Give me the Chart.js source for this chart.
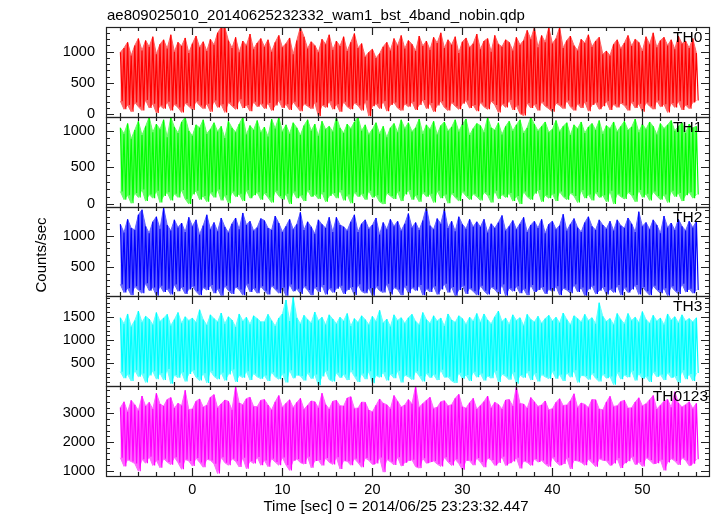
<!DOCTYPE html>
<html>
<head>
<meta charset="utf-8">
<title>ae809025010 wam1 bst 4band</title>
<script src="https://cdn.jsdelivr.net/npm/chart.js@4.4.0/dist/chart.umd.min.js"></script>
<style>
  html, body { margin: 0; padding: 0; background: #fff; }
  #wrap { width: 717px; height: 516px; }
</style>
</head>
<body>
<div id="wrap"><canvas id="lc" width="717" height="516"></canvas></div>
<script>
// light curve: highest and lowest count rate in each 0.4 s step from t = -8 s
var timeStart = -8;
var timeBin = 0.4;

var th0Hi = [
  990, 1060, 1150, 940, 1100, 1210, 1020, 1180, 1080, 1240, 960, 1120, 1190, 1050, 1270, 1000, 1150, 1090, 1220, 980,
  1130, 1250, 1070, 1160, 1010, 1200, 1110, 1300, 1390, 1390, 1180, 1060, 1230, 990, 1170, 1100, 1280, 1040, 1140, 1210,
  1080, 1190, 1000, 1150, 1260, 1070, 1130, 1220, 960, 1180, 1390, 1240, 1050, 1160, 1100, 990, 1200, 1120, 1270, 1030,
  1170, 1090, 1240, 1010, 1150, 1290, 1060, 1130, 920, 990, 1040, 900, 970, 1080, 1150, 1020, 1210, 1100, 1260, 1050,
  1180, 1120, 1010, 1250, 1090, 1170, 1030, 1230, 1140, 1300, 1060, 1190, 1110, 1240, 980, 1160, 1220, 1070, 1130, 1280,
  1040, 1170, 1210, 1000, 1260, 1120, 1080, 1190, 1150, 1020, 1230, 1110, 1180, 1340, 1200, 1390, 1070, 1260, 1150, 1390,
  1130, 1210, 1390, 1060, 1180, 1250, 1100, 1020, 1200, 1140, 1270, 1080, 1170, 1230, 960, 1010, 940, 1120, 1190, 1050,
  1140, 1260, 1090, 1200, 1150, 1010, 1240, 1120, 1300, 1070, 1180, 1230, 1100, 1190, 1040, 1250, 1130, 1170, 1060, 1210, 980
];
var th0Lo = [
  210, 80, 150, 40, 190, 120, 60, 230, 100, 170, 20, 140, 90, 200, 60, 160, 110, 30, 180, 130,
  70, 210, 140, 90, 170, 40, 220, 110, 160, 30, 190, 130, 80, 240, 100, 150, 50, 200, 120, 170,
  90, 180, 60, 140, 220, 100, 160, 70, 200, 120, 50, 170, 130, 90, 190, -30, 150, 110, 210, 80,
  160, 40, 200, 120, 80, 180, 140, 60, 220, -30, 130, 170, 90, 210, 50, 150, 190, 100, 60, 170,
  120, 200, 70, 150, 230, 90, 180, 40, 140, 210, 110, 60, 190, 130, 80, 170, 220, 100, 150, 50,
  190, 120, 80, 210, 150, 30, 170, 110, 230, 70, 140, 10, -20, 180, 100, 160, 60, 200, 130, 90,
  40, 180, 140, 90, 220, 120, 60, 170, 100, 200, 50, 150, 190, 80, 130, 210, 70, 160, 110, 180,
  140, 60, 200, 100, 170, 40, 190, 130, 80, 220, 120, 160, 30, 180, 110, 210, 70, 150, 90, 190, 220
];

var th1Hi = [
  1040, 960, 1100, 890, 1010, 1130, 940, 1060, 1185, 980, 1090, 1020, 1150, 910, 1185, 1050, 970, 1120, 1185, 1000,
  930, 1080, 1040, 1150, 960, 1020, 1110, 990, 1060, 900, 1130, 1040, 980, 1090, 1185, 950, 1070, 1010, 1140, 980,
  1050, 920, 1160, 1030, 1185, 990, 1080, 960, 1110, 1040, 940, 1070, 1150, 1000, 1090, 930, 1130, 1020, 1060, 990,
  1185, 1040, 970, 1090, 1030, 1120, 1185, 1000, 1080, 950, 1020, 1110, 960, 1060, 910, 1040, 1100, 980, 1150, 1030,
  1110, 990, 1040, 1160, 960, 1080, 1020, 1130, 950, 1070, 1120, 1000, 1050, 1150, 990, 1090, 1160, 940, 1030, 1100,
  1070, 980, 1185, 1040, 1010, 1110, 950, 1060, 1130, 1000, 1080, 1150, 970, 1040, 1185, 1090, 1000, 1060, 1120, 980,
  1020, 1140, 990, 1060, 1110, 940, 1080, 1030, 1120, 970, 1050, 1100, 1010, 1140, 960, 1070, 1030, 1120, 990, 1060,
  1130, 1010, 1050, 1160, 980, 1090, 1020, 1120, 1060, 950, 1100, 1030, 1080, 1140, 1000, 1060, 1110, 970, 1090, 1040, 1060
];
var th1Lo = [
  170, 60, 120, 10, 150, 90, 200, 40, 130, 80, 180, 20, 110, 160, 50, 140, 90, 190, 70, 0,
  130, 180, 60, 110, 30, 160, 90, 200, 50, 120, 10, 170, 100, 140, 40, 190, 80, 120, 160, 60,
  150, 90, 20, 180, 110, 60, 140, 0, 170, 80, 120, 40, 190, 100, 130, 70, 160, 30, 110, 150,
  80, 190, 50, 130, 10, 160, 100, 140, 60, 180, 90, 120, 30, 0, 150, 110, 70, 170, 40, 130,
  190, 60, 120, 30, 160, 100, 140, 20, 180, 80, 130, 10, 150, 90, 40, 170, 110, 60, 140, 100,
  50, 160, 120, 20, 180, 70, 130, 90, 150, 40, 110, 0, 170, 100, 60, 140, 190, 30, 120, 80,
  140, 40, 170, 100, 60, 150, 110, 20, 190, 80, 130, 50, 160, 90, 120, 30, 180, 0, 140, 100,
  70, 160, 120, 30, 190, 90, 140, 50, 170, 110, 60, 130, 20, 180, 100, 150, 40, 120, 160, 80, 130
];

var th2Hi = [
  1180, 1050, 1260, 1120, 1090, 1330, 1410, 1150, 1040, 1220, 1300, 1110, 1440, 1170, 1080, 1250, 1130, 1200, 1060, 1290,
  1150, 1250, 1020, 1160, 1330, 1100, 1210, 1070, 1280, 1140, 1050, 1190, 1280, 1100, 1360, 1170, 1230, 1080, 1130, 1270,
  1240, 1120, 1090, 1310, 1200, 1060, 1150, 1260, 1100, 1180, 1370, 1090, 1220, 1140, 1030, 1250, 1180, 1120, 1290, 1060,
  1290, 1170, 1140, 1080, 1220, 1330, 1060, 1190, 1250, 1110, 1170, 1280, 1020, 1210, 1100, 1260, 1150, 1230, 1080, 1190,
  1350, 1130, 1210, 1090, 1240, 1450, 1160, 1100, 1270, 1190, 1420, 1120, 1230, 1070, 1300, 1180, 1110, 1260, 1140, 1220,
  1140, 1260, 1050, 1190, 1120, 1210, 1320, 1080, 1150, 1240, 1100, 1190, 1290, 1060, 1170, 1230, 1120, 1260, 1040, 1180,
  1230, 1100, 1160, 1340, 1080, 1180, 1270, 1130, 1060, 1210, 1300, 1150, 1090, 1250, 1170, 1110, 1230, 1080, 1250, 1160,
  1120, 1280, 1190, 1060, 1380, 1150, 1210, 1100, 1250, 1170, 1040, 1310, 1130, 1200, 1090, 1260, 1150, 1080, 1230, 1130, 1230
];
var th2Lo = [
  230, 100, 170, 60, 200, 140, 90, 250, 130, 180, 50, 210, 110, 160, 70, 230, 120, 190, 80, 150,
  200, 120, 60, 180, 140, 220, 90, 160, 50, 210, 130, 80, 190, 150, 60, 240, 110, 170, 90, 200,
  130, 70, 210, 150, 90, 180, 50, 230, 120, 160, 80, 200, 140, 60, 190, 110, 220, 70, 170, 100,
  160, 210, 80, 140, 190, 60, 230, 120, 90, 170, 50, 200, 130, 100, 240, 70, 180, 150, 60, 210,
  90, 180, 130, 220, 60, 160, 110, 200, 70, 150, 240, 100, 190, 50, 140, 210, 80, 170, 120, 60,
  210, 130, 70, 190, 150, 80, 230, 50, 170, 120, 200, 90, 160, 60, 220, 110, 140, 190, 80, 150,
  120, 200, 60, 170, 140, 90, 230, 110, 180, 50, 150, 210, 80, 130, 190, 70, 160, 100, 220, 60,
  180, 100, 150, 220, 70, 190, 120, 60, 210, 140, 90, 170, 50, 200, 130, 80, 240, 110, 160, 90, 140
];

var th3Hi = [
  1480, 1350, 1560, 1290, 1420, 1620, 1380, 1510, 1450, 1330, 1590, 1400, 1470, 1550, 1310, 1440, 1590, 1360, 1500, 1420,
  1470, 1380, 1650, 1440, 1320, 1540, 1460, 1390, 1580, 1350, 1500, 1430, 1280, 1560, 1410, 1490, 1340, 1520, 1460, 1390,
  1390, 1550, 1420, 1300, 1470, 1560, 1860, 1410, 1920, 1480, 1350, 1530, 1440, 1370, 1600, 1420, 1490, 1330, 1540, 1450,
  1350, 1490, 1410, 1570, 1300, 1460, 1380, 1520, 1440, 1330, 1510, 1400, 1640, 1370, 1450, 1290, 1540, 1420, 1480, 1360,
  1480, 1550, 1400, 1330, 1590, 1440, 1360, 1520, 1410, 1470, 1300, 1560, 1430, 1380, 1520, 1460, 1340, 1490, 1410, 1570,
  1380, 1560, 1430, 1350, 1500, 1620, 1400, 1470, 1340, 1540, 1420, 1480, 1310, 1550, 1440, 1390, 1510, 1360, 1460, 1530,
  1410, 1490, 1370, 1580, 1440, 1330, 1520, 1460, 1390, 1550, 1420, 1480, 1350, 1800, 1510, 1400, 1460, 1330, 1570, 1440,
  1350, 1570, 1420, 1490, 1380, 1610, 1440, 1360, 1530, 1410, 1470, 1330, 1560, 1430, 1500, 1370, 1540, 1410, 1460, 1390, 1480
];
var th3Lo = [
  320, 180, 260, 120, 350, 210, 280, 90, 240, 330, 160, 290, 140, 380, 60, 250, 190, 310, 110, 270,
  350, 200, 130, 290, 80, 340, 220, 160, 300, 130, 260, 370, 100, 240, 190, 330, 140, 280, 210, 170,
  240, 120, 310, 210, 160, 280, 90, 350, 180, 250, 230, 130, 300, 170, 260, 30, 220, 340, 150, 110,
  300, 190, 260, 140, 350, 220, 100, 280, 160, 330, 70, 240, 200, 310, 130, 270, 180, 340, 90, 250,
  210, 150, 330, 230, 110, 290, 190, 260, 140, 360, 200, 210, 120, 80, 300, 170, 250, 120, 320, 200,
  280, 130, 230, 180, 340, 100, 270, 220, 150, 310, 60, 250, 190, 330, 140, 290, 110, 260, 210, 170,
  330, 170, 260, 120, 300, 200, 350, 90, 240, 230, 150, 290, 180, 110, 270, 180, 220, 40, 310, 160,
  250, 200, 340, 130, 280, 170, 220, 100, 320, 210, 260, 140, 300, 190, 230, 80, 350, 160, 270, 120, 290
];

var th0123Hi = [
  3200, 3400, 3050, 3450, 3300, 3100, 3600, 3250, 3380, 3150, 3700, 3320, 3250, 3480, 3550, 3180, 3350, 3270, 3800, 3130,
  3150, 3420, 3500, 3220, 3280, 3560, 3650, 3190, 3330, 3460, 3420, 3120, 3940, 3360, 3300, 3510, 3560, 3240, 3230, 3450,
  3480, 3290, 3120, 3400, 3620, 3210, 3350, 3470, 3200, 3380, 3520, 3140, 3280, 3430, 3400, 3190, 3700, 3310, 3150, 3420,
  3450, 3260, 3250, 3530, 3580, 3170, 3180, 3390, 3380, 3110, 3050, 3280, 3500, 3350, 3300, 3160, 3620, 3420, 3220, 3290,
  3480, 3330, 3940, 3210, 3340, 3450, 3560, 3170, 3210, 3400, 3440, 3260, 3300, 3520, 3660, 3230, 3180, 3370, 3520, 3150,
  3270, 3410, 3600, 3190, 3380, 3310, 3150, 3460, 3480, 3250, 3940, 3340, 3320, 3180, 3550, 3400, 3240, 3290, 3430, 3120,
  3160, 3380, 3510, 3270, 3290, 3440, 3680, 3200, 3360, 3310, 3200, 3480, 3470, 3150, 3120, 3390, 3590, 3240, 3260, 3410,
  3450, 3180, 3190, 3390, 3540, 3260, 3330, 3470, 3620, 3150, 3280, 3420, 3480, 3210, 3750, 3360, 3220, 3300, 3400, 3170, 3350
];
var th0123Lo = [
  1450, 1150, 1380, 1320, 1250, 980, 1400, 1260, 1490, 1180, 1360, 1100, 1420, 1300, 1210, 1470, 1280, 1050, 1390, 1340,
  1160, 1440, 1290, 1120, 1400, 1360, 1240, 900, 1470, 1280, 1190, 1420, 1330, 1130, 1450, 1070, 1340, 1250, 1480, 1190,
  1360, 1140, 1420, 1300, 1190, 1460, 1200, 1010, 1350, 1410, 1280, 1230, 1490, 1100, 1340, 1370, 1180, 1440, 1290, 1220,
  1470, 1060, 1350, 1330, 1190, 1420, 1280, 1120, 1440, 1360, 1220, 1250, 1460, 950, 1390, 1310, 1200, 1470, 1160, 1280,
  1350, 1380, 1140, 1090, 1430, 1260, 1300, 1340, 1230, 1150, 1470, 1300, 1180, 1400, 1250, 1030, 1360, 1350, 1190, 1440,
  1300, 1120, 1440, 1370, 1180, 1270, 1490, 1180, 1260, 1320, 1450, 1080, 1340, 1290, 1180, 1410, 1300, 1360, 1230, 1140,
  1470, 1300, 1190, 1230, 1450, 1060, 1360, 1340, 1290, 1190, 1400, 1280, 1140, 1420, 1360, 1350, 1180, 1250, 1430, 1090,
  1260, 1330, 1490, 1210, 1300, 1150, 1450, 1370, 1240, 1260, 1380, 1010, 1290, 1420, 1340, 1200, 1450, 1360, 1170, 1240, 1400
];

var panelNames = ['TH0', 'TH1', 'TH2', 'TH3', 'TH0123'];
var panelHi = [th0Hi, th1Hi, th2Hi, th3Hi, th0123Hi];
var panelLo = [th0Lo, th1Lo, th2Lo, th3Lo, th0123Lo];
var panelColors = ['#ff0000', '#00ff00', '#0000ff', '#00ffff', '#ff00ff'];
var panelTints = ['#ff6464', '#64ff64', '#6464ff', '#64ffff', '#ff64ff'];

// axis limits and tick steps of each panel
var panelMin = [-40, -35, 40, 9, 815];
var panelMax = [1394, 1190, 1460, 1936, 3944];
var majorStep = [500, 500, 500, 500, 1000];
var minorStep = [100, 100, 100, 100, 200];
var timeMin = -9.6;
var timeMax = 57.4;

var fontFamily = '"Liberation Sans", Arial, Helvetica, sans-serif';

var times = th0Hi.map(function (v, i) {
    return +(timeStart + i * timeBin).toFixed(2);
});

var datasets = [];
panelNames.forEach(function (name, p) {
    var hi = panelHi[p];
    var lo = panelLo[p];

    // pale band between the highs and the lows (plain arrays, x from the labels)
    datasets.push({
        label: name + ' max',
        data: hi,
        yAxisID: 'y' + p,
        order: 1,
        borderColor: panelTints[p],
        backgroundColor: panelTints[p],
        borderWidth: 1,
        pointRadius: 0,
        tension: 0,
        fill: '+1'
    });
    datasets.push({
        label: name + ' min',
        data: lo,
        yAxisID: 'y' + p,
        order: 1,
        borderColor: panelTints[p],
        backgroundColor: panelTints[p],
        borderWidth: 1,
        pointRadius: 0,
        tension: 0,
        fill: false
    });

    // the trace: high sample at the bin start, low sample half a bin later
    var trace = [];
    hi.forEach(function (v, i) {
        trace.push({ x: times[i], y: v });
        trace.push({ x: times[i] + timeBin / 2, y: lo[i] });
    });
    datasets.push({
        label: name,
        data: trace,
        yAxisID: 'y' + p,
        order: 0,
        borderColor: panelColors[p],
        borderWidth: 1.2,
        pointRadius: 0,
        tension: 0,
        fill: false
    });
});

var scales = {
    x: {
        type: 'linear',
        position: 'bottom',
        min: timeMin,
        max: timeMax,
        grid: { display: false, drawTicks: false },
        border: { display: false },
        ticks: {
            stepSize: 10,
            includeBounds: false,
            padding: 5,
            color: '#000',
            font: { family: fontFamily, size: 14.5 }
        },
        afterFit: function (scale) { scale.height = 40; }
    }
};

var majorTicks = function (scale) {
    var p = +scale.id.slice(1);
    var ticks = [];
    var first = Math.ceil(panelMin[p] / majorStep[p]);
    var last = Math.floor(panelMax[p] / majorStep[p]);
    for (var i = first; i <= last; i++) {
        ticks.push({ value: i * majorStep[p] });
    }
    scale.ticks = ticks;
};

// stacked left axes: the one declared last ends up on top
for (var p = panelNames.length - 1; p >= 0; p--) {
    scales['y' + p] = {
        type: 'linear',
        position: 'left',
        stack: 'panels',
        stackWeight: 1,
        min: panelMin[p],
        max: panelMax[p],
        grid: { display: false, drawTicks: false },
        border: { display: false },
        afterBuildTicks: majorTicks,
        ticks: {
            autoSkip: false,
            padding: 11,
            color: '#000',
            font: { family: fontFamily, size: 14.5 },
            callback: function (value) { return String(value); }
        },
        afterFit: function (scale) { scale.width = 106; }
    };
}

var drawTicks = function (ctx, chart) {
    var area = chart.chartArea;
    var xs = chart.scales.x;

    panelNames.forEach(function (name, p) {
        var ys = chart.scales['y' + p];
        var top = Math.round(ys.top);
        var bottom = Math.round(ys.bottom);
        var i, v, len, px, py;

        // y ticks, left and right, pointing inwards
        var first = Math.ceil(panelMin[p] / minorStep[p]);
        var last = Math.floor(panelMax[p] / minorStep[p]);
        for (i = first; i <= last; i++) {
            v = i * minorStep[p];
            len = (v % majorStep[p] === 0) ? 8 : 4;
            py = Math.round(ys.getPixelForValue(v)) + 0.5;
            ctx.beginPath();
            ctx.moveTo(area.left, py);
            ctx.lineTo(area.left + len, py);
            ctx.moveTo(area.right, py);
            ctx.lineTo(area.right - len, py);
            ctx.stroke();
        }

        // time ticks on top and bottom of every panel
        first = Math.ceil(timeMin / 2);
        last = Math.floor(timeMax / 2);
        for (i = first; i <= last; i++) {
            v = i * 2;
            len = (v % 10 === 0) ? 8 : 4;
            px = Math.round(xs.getPixelForValue(v)) + 0.5;
            ctx.beginPath();
            ctx.moveTo(px, top);
            ctx.lineTo(px, top + len);
            ctx.moveTo(px, bottom);
            ctx.lineTo(px, bottom - len);
            ctx.stroke();
        }

        ctx.strokeRect(Math.round(area.left) + 0.5, top + 0.5,
            Math.round(area.right) - Math.round(area.left), bottom - top);
    });
};

var qdpDecor = {
    id: 'qdpDecor',
    afterDatasetsDraw: function (chart) {
        var ctx = chart.ctx;
        var area = chart.chartArea;

        ctx.save();
        ctx.strokeStyle = '#222';
        ctx.lineWidth = 1.2;
        drawTicks(ctx, chart);

        ctx.fillStyle = '#000';
        ctx.font = '15px ' + fontFamily;
        ctx.textBaseline = 'alphabetic';
        ctx.textAlign = 'left';
        ctx.fillText('ae809025010_20140625232332_wam1_bst_4band_nobin.qdp', 107, 20);

        ctx.textAlign = 'center';
        ctx.fillText('Time [sec] 0 = 2014/06/25 23:23:32.447', 396, 511);

        ctx.save();
        ctx.translate(42, 255);
        ctx.rotate(-Math.PI / 2);
        ctx.textBaseline = 'middle';
        ctx.fillText('Counts/sec', 0, 0);
        ctx.restore();

        ctx.font = '15.5px ' + fontFamily;
        ctx.textAlign = 'left';
        ctx.textBaseline = 'top';
        panelNames.forEach(function (name, p) {
            var ys = chart.scales['y' + p];
            var w = ctx.measureText(name).width;
            var x = Math.min(673, area.right - 1 - w);
            ctx.fillText(name, x, ys.top + 3);
        });
        ctx.restore();
    }
};

var lightCurve = new Chart(document.getElementById('lc'), {
    type: 'line',
    data: {
        labels: times,
        datasets: datasets
    },
    options: {
        responsive: false,
        animation: false,
        layout: {
            padding: { top: 27, right: 8, bottom: 0, left: 0 }
        },
        plugins: {
            legend: { display: false },
            tooltip: { enabled: false },
            title: { display: false }
        },
        scales: scales
    },
    plugins: [qdpDecor]
});
</script>
</body>
</html>
